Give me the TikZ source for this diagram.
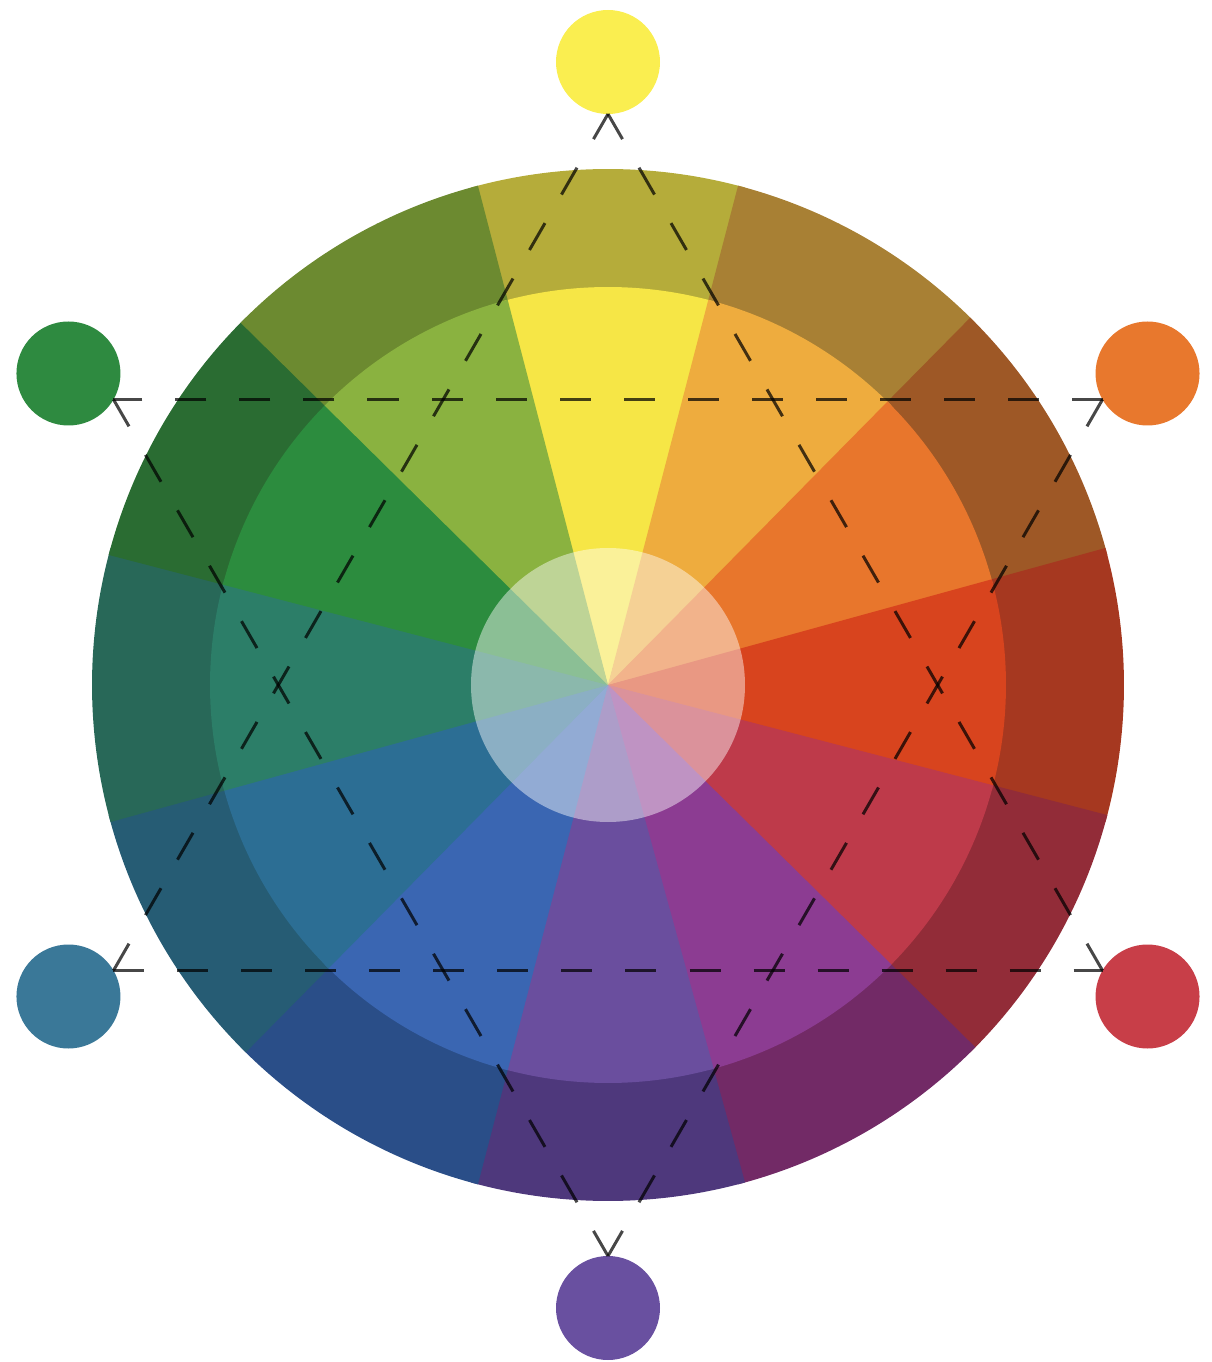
\documentclass[tikz,border=0pt]{standalone}
\usepackage{tikz}
% outer (dark) ring
\definecolor{oA}{RGB}{181,172,58}
\definecolor{oB}{RGB}{168,128,52}
\definecolor{oC}{RGB}{158,88,38}
\definecolor{oD}{RGB}{166,56,32}
\definecolor{oE}{RGB}{146,44,56}
\definecolor{oF}{RGB}{114,42,102}
\definecolor{oG}{RGB}{78,56,124}
\definecolor{oH}{RGB}{42,78,136}
\definecolor{oI}{RGB}{38,92,116}
\definecolor{oJ}{RGB}{40,104,88}
\definecolor{oK}{RGB}{42,108,50}
\definecolor{oL}{RGB}{108,138,48}
% middle ring
\definecolor{mA}{RGB}{246,230,70}
\definecolor{mB}{RGB}{238,172,62}
\definecolor{mC}{RGB}{232,118,44}
\definecolor{mD}{RGB}{216,68,30}
\definecolor{mE}{RGB}{190,58,74}
\definecolor{mF}{RGB}{140,60,146}
\definecolor{mG}{RGB}{106,78,158}
\definecolor{mH}{RGB}{58,102,178}
\definecolor{mI}{RGB}{44,110,148}
\definecolor{mJ}{RGB}{44,126,104}
\definecolor{mK}{RGB}{44,140,62}
\definecolor{mL}{RGB}{138,178,64}
% outside circles
\definecolor{cY}{RGB}{250,238,80}
\definecolor{cO}{RGB}{232,120,45}
\definecolor{cR}{RGB}{200,62,72}
\definecolor{cP}{RGB}{105,80,160}
\definecolor{cT}{RGB}{58,120,152}
\definecolor{cG}{RGB}{46,138,64}
\begin{document}
\begin{tikzpicture}[x=1pt,y=1pt,
  dot/.style={circle,minimum size=104pt,inner sep=0pt,outer sep=0pt},
  tri/.style={draw=black,draw opacity=0.72,line width=3pt,dash pattern=on 31pt off 33pt}]
\useasboundingbox (-608,-677) rectangle (603,685);
% outer ring wedges
\foreach \a/\co in {90/oA,60/oB,30/oC,0/oD,-30/oE,-60/oF,-90/oG,-120/oH,-150/oI,-180/oJ,-210/oK,-240/oL}{
  \fill[\co] (0,0) -- ({\a-15.4}:516) arc[start angle={\a-15.4},end angle={\a+15.4},radius=516] -- cycle;
}
% middle ring wedges
\foreach \a/\co in {90/mA,60/mB,30/mC,0/mD,-30/mE,-60/mF,-90/mG,-120/mH,-150/mI,-180/mJ,-210/mK,-240/mL}{
  \fill[\co] (0,0) -- ({\a-15.4}:398) arc[start angle={\a-15.4},end angle={\a+15.4},radius=398] -- cycle;
}
% light inner circle
\fill[white,opacity=0.45] (0,0) circle[radius=137];
% outside circles
\node[dot,fill=cY] (nY) at (90:623) {};
\node[dot,fill=cO] (nO) at (30:623) {};
\node[dot,fill=cR] (nR) at (-30:623) {};
\node[dot,fill=cP] (nP) at (-90:623) {};
\node[dot,fill=cT] (nT) at (-150:623) {};
\node[dot,fill=cG] (nG) at (150:623) {};
% dashed triangles
\draw[tri] (nT.30) -- (nY.-90);
\draw[tri] (nT.30) -- (nR.150);
\draw[tri] (nR.150) -- (nY.-90);
\draw[tri] (nO.-150) -- (nG.-30);
\draw[tri] (nO.-150) -- (nP.90);
\draw[tri] (nG.-30) -- (nP.90);
\end{tikzpicture}
\end{document}
